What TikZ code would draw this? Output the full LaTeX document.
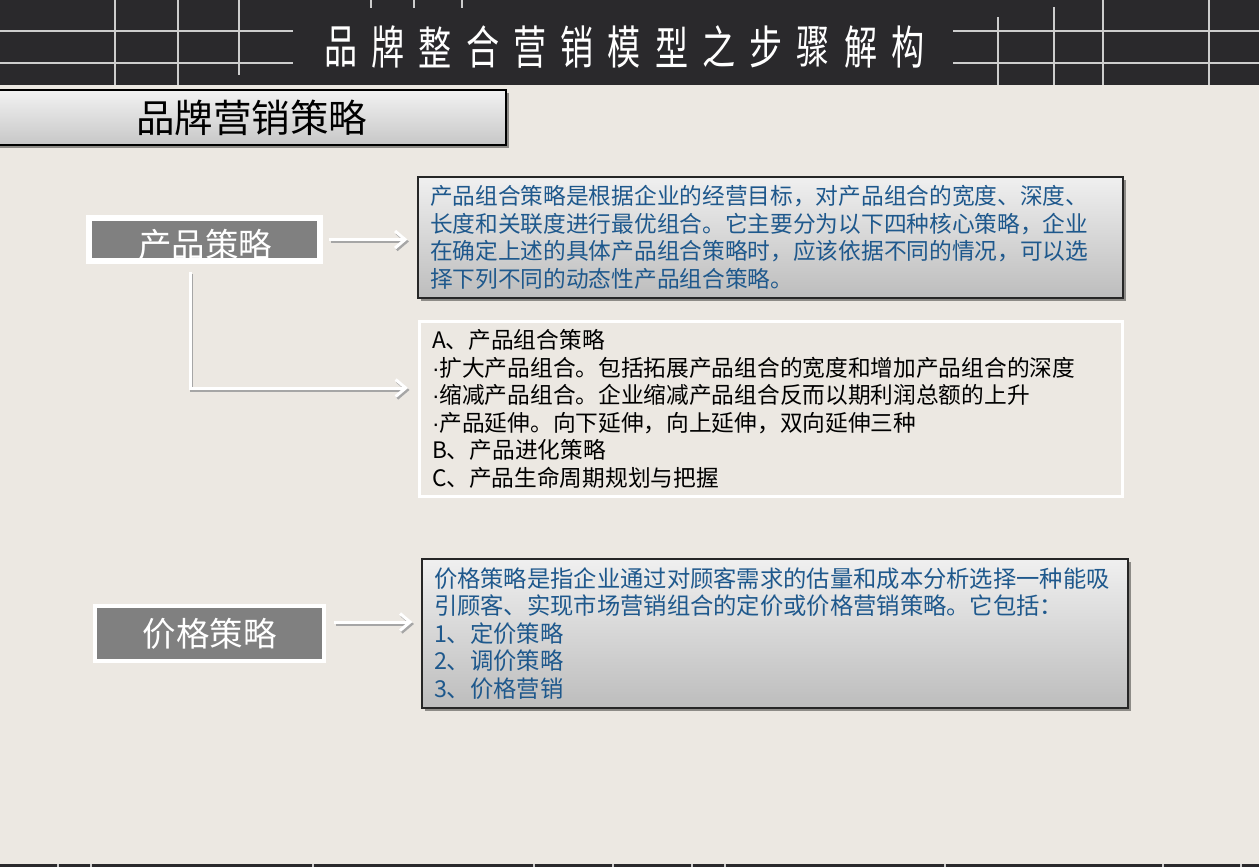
\documentclass[tikz,border=0pt]{standalone}
\usepackage{fontspec}
\setmainfont{Noto Sans CJK SC}
\newfontfamily\latinf{Liberation Sans}
\newcommand{\mdot}{{\latinf\char"00B7}}
\usetikzlibrary{arrows.meta,shadows}
\definecolor{bg}{RGB}{236,232,226}
\definecolor{hdr}{RGB}{42,41,44}
\definecolor{gridc}{RGB}{205,205,205}
\definecolor{bluetext}{RGB}{30,88,140}
\definecolor{catgray}{RGB}{128,128,128}
\tikzset{
  gridline/.style={draw=gridc, line width=2pt},
  titlechar/.style={text=white, inner sep=0pt, font=\fontsize{46}{46}\selectfont},
  myshadow/.style={drop shadow={shadow xshift=3pt, shadow yshift=-3pt, opacity=0.4, fill=black}},
  headbox/.style={draw=black, line width=1.2pt, top color=white!95!black, bottom color=white!78!black,
    myshadow, minimum width=509pt, minimum height=55pt, inner sep=0pt, font=\fontsize{38.5}{38.5}\selectfont},
  catbox/.style={fill=catgray, draw=white, line width=4pt, minimum width=229pt, inner sep=0pt,
    text=white, font=\fontsize{33.5}{33.5}\selectfont},
  cattext/.style={text=white, inner sep=0pt, font=\fontsize{33.5}{33.5}\selectfont},
  descbox/.style={draw=black!85, line width=1.2pt, top color=white!94!black, bottom color=white!74!black,
    myshadow, inner ysep=0pt, align=left, text=bluetext},
  listbox/.style={draw=white, line width=3pt, inner ysep=0pt, align=left, text=black},
  conn/.style={draw=white, line width=3pt, -{Straight Barb[length=10pt,width=17pt]}},
  connsh/.style={draw=black!35, line width=3pt, -{Straight Barb[length=10pt,width=17pt]},
    transform canvas={xshift=1.5pt,yshift=-2pt}},
}
\begin{document}
\begin{tikzpicture}[x=1pt,y=1pt]
\useasboundingbox (0,0) rectangle (1259,-867);
\fill[bg] (0,0) rectangle (1259,-867);
% header
\fill[hdr] (0,0) rectangle (1259,-85);
\draw[gridline] (0,-31) -- (293,-31);
\draw[gridline] (0,-63) -- (293,-63);
\draw[gridline] (953,-31) -- (1259,-31);
\draw[gridline] (953,-63) -- (1259,-63);
\draw[gridline] (115,0) -- (115,-85);
\draw[gridline] (178,0) -- (178,-85);
\draw[gridline] (239,0) -- (239,-75);
\draw[gridline] (371,0) -- (371,-8);
\draw[gridline] (414,0) -- (414,-8);
\draw[gridline] (462,0) -- (462,-8);
\draw[gridline] (998,-17) -- (998,-85);
\draw[gridline] (1054,-7) -- (1054,-85);
\draw[gridline] (1103,0) -- (1103,-85);
\draw[gridline] (1209,0) -- (1209,-85);
\fill[hdr] (325,-10) rectangle (930,-85);
\foreach \c [count=\i from 0] in {品,牌,整,合,营,销,模,型,之,步,骤,解,构}
  \node[titlechar] (t\i) at (341+47.25*\i,-47) {\scalebox{0.72}[1]{\c}};
% bottom strip
\fill[hdr] (0,-864) rectangle (1259,-867);
\foreach \x in {58,91,313,534,613,692,725,945,1163,1241}
  \fill[gridc] (\x-1,-864) rectangle (\x+1,-867);
% title box
\node[headbox] (head) at (251.5,-117.5) {品牌营销策略};
% category boxes
\node[catbox, minimum height=41pt] (p1) at (204.5,-239.5) {};
\node[cattext] (p1t) at (205,-245) {产品策略};
\draw[white, line width=4pt] (p1.north west) rectangle (p1.south east);
\node[catbox, minimum height=55pt] (p2) at (209.5,-633.5) {价格策略};
% description boxes
\node[descbox, minimum width=705pt, minimum height=121pt, inner xsep=12pt, text width=681pt,
  font=\fontsize{22.7}{27.5}\selectfont] (d1) at (770.5,-237.5)
  {产品组合策略是根据企业的经营目标，对产品组合的宽度、深度、\\
   长度和关联度进行最优组合。它主要分为以下四种核心策略，企业\\
   在确定上述的具体产品组合策略时，应该依据不同的情况，可以选\\
   择下列不同的动态性产品组合策略。};
\node[listbox, minimum width=703pt, minimum height=175pt, inner xsep=12.5pt, text width=678pt,
  font=\fontsize{22.7}{27.5}\selectfont] (d2) at (771,-409)
  {A、产品组合策略\\
   \mdot 扩大产品组合。包括拓展产品组合的宽度和增加产品组合的深度\\
   \mdot 缩减产品组合。企业缩减产品组合反而以期利润总额的上升\\
   \mdot 产品延伸。向下延伸，向上延伸，双向延伸三种\\
   B、产品进化策略\\
   C、产品生命周期规划与把握};
\node[descbox, minimum width=706pt, minimum height=149pt, inner xsep=12pt, text width=682pt,
  font=\fontsize{23.3}{27.5}\selectfont] (d3) at (775,-633.5)
  {价格策略是指企业通过对顾客需求的估量和成本分析选择一种能吸\\
   引顾客、实现市场营销组合的定价或价格营销策略。它包括：\\
   1、定价策略\\
   2、调价策略\\
   3、价格营销};
% connectors
\draw[connsh, shorten <=8pt, shorten >=10pt] (p1.east) -- (p1.east -| d1.west);
\draw[conn, shorten <=8pt, shorten >=10pt] (p1.east) -- (p1.east -| d1.west);
\draw[connsh, shorten <=10pt, shorten >=10pt] ([xshift=-14.5pt]p1.south) |- ([yshift=21pt]d2.west);
\draw[conn, shorten <=10pt, shorten >=10pt] ([xshift=-14.5pt]p1.south) |- ([yshift=21pt]d2.west);
\draw[connsh, shorten <=8pt, shorten >=9pt] ([yshift=11.5pt]p2.east) -- ([yshift=11.5pt]p2.east -| d3.west);
\draw[conn, shorten <=8pt, shorten >=9pt] ([yshift=11.5pt]p2.east) -- ([yshift=11.5pt]p2.east -| d3.west);
\end{tikzpicture}
\end{document}
